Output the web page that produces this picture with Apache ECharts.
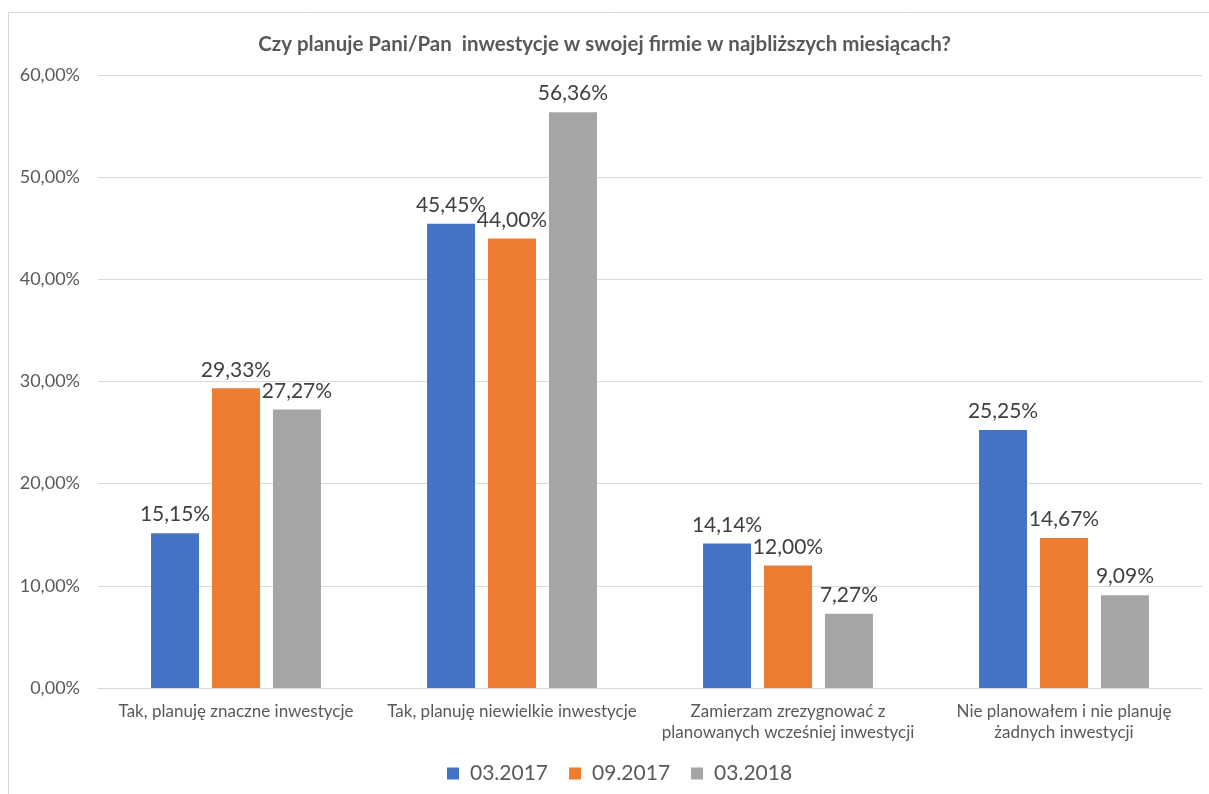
<!DOCTYPE html>
<html>
<head>
<meta charset="utf-8">
<script src="https://cdn.jsdelivr.net/npm/echarts@6/dist/echarts.min.js"></script>
<style>
    html, body { margin: 0; padding: 0; background: #fff; }
    #chart { width: 1209px; height: 794px; }
</style>
</head>
<body>
<div id="chart"></div>
<script>
// kategorie odpowiedzi
const categories = [
    "Tak, planuję znaczne inwestycje",
    "Tak, planuję niewielkie inwestycje",
    "Zamierzam zrezygnować z\nplanowanych wcześniej inwestycji",
    "Nie planowałem i nie planuję\nżadnych inwestycji"
];
// wartości w procentach
const s03_2017 = [15.15, 45.45, 14.14, 25.25];
const s09_2017 = [29.33, 44.0, 12.0, 14.67];
const s03_2018 = [27.27, 56.36, 7.27, 9.09];
const yTicks = [0, 10, 20, 30, 40, 50, 60];

const FONT = "Lato, 'Open Sans', sans-serif";
const fmt = (v) => v.toFixed(2).replace(".", ",") + "%";

const chart = echarts.init(document.getElementById("chart"));

function bar(name, data, color) {
    return {
        name: name,
        type: "bar",
        data: data,
        barWidth: 48,
        barGap: "27%",
        itemStyle: { color: color },
        label: {
            show: true,
            position: "top",
            distance: 8,
            color: "#404040",
            fontSize: 21,
            fontFamily: FONT,
            formatter: (p) => fmt(p.value)
        }
    };
}

chart.setOption({
    animation: false,
    graphic: [
        {
            type: "rect",
            shape: { x: 8.5, y: 12.5, width: 1220, height: 800 },
            style: { fill: "none", stroke: "#d9d9d9", lineWidth: 1 },
            silent: true
        }
    ],
    title: {
        text: "Czy planuje Pani/Pan  inwestycje w swojej firmie w najbliższych miesiącach?",
        left: "center",
        top: 29,
        textStyle: {
            color: "#595959",
            fontSize: 20.5,
            fontWeight: "bold",
            fontFamily: FONT
        }
    },
    legend: {
        bottom: 5,
        left: 442,
        itemWidth: 12,
        itemHeight: 12,
        itemGap: 21,
        icon: "rect",
        textStyle: {
            color: "#595959",
            fontSize: 21,
            fontFamily: FONT,
            padding: [0, 0, 0, 6]
        }
    },
    grid: { left: 98, right: 7, top: 75, bottom: 106, containLabel: false },
    xAxis: {
        type: "category",
        data: categories,
        axisLine: { lineStyle: { color: "#d9d9d9", width: 1 } },
        axisTick: { show: false },
        axisLabel: {
            color: "#595959",
            fontSize: 17,
            fontFamily: FONT,
            margin: 13,
            lineHeight: 21,
            interval: 0
        }
    },
    yAxis: {
        type: "value",
        min: yTicks[0],
        max: yTicks[yTicks.length - 1],
        interval: 10,
        axisLine: { show: false },
        axisTick: { show: false },
        splitLine: { lineStyle: { color: "#d9d9d9", width: 1 } },
        axisLabel: {
            color: "#595959",
            fontSize: 18,
            fontFamily: FONT,
            margin: 18,
            formatter: (v) => fmt(v)
        }
    },
    series: [
        bar("03.2017", s03_2017, "#4472C4"),
        bar("09.2017", s09_2017, "#ED7D31"),
        bar("03.2018", s03_2018, "#A5A5A5")
    ]
});
</script>
</body>
</html>
